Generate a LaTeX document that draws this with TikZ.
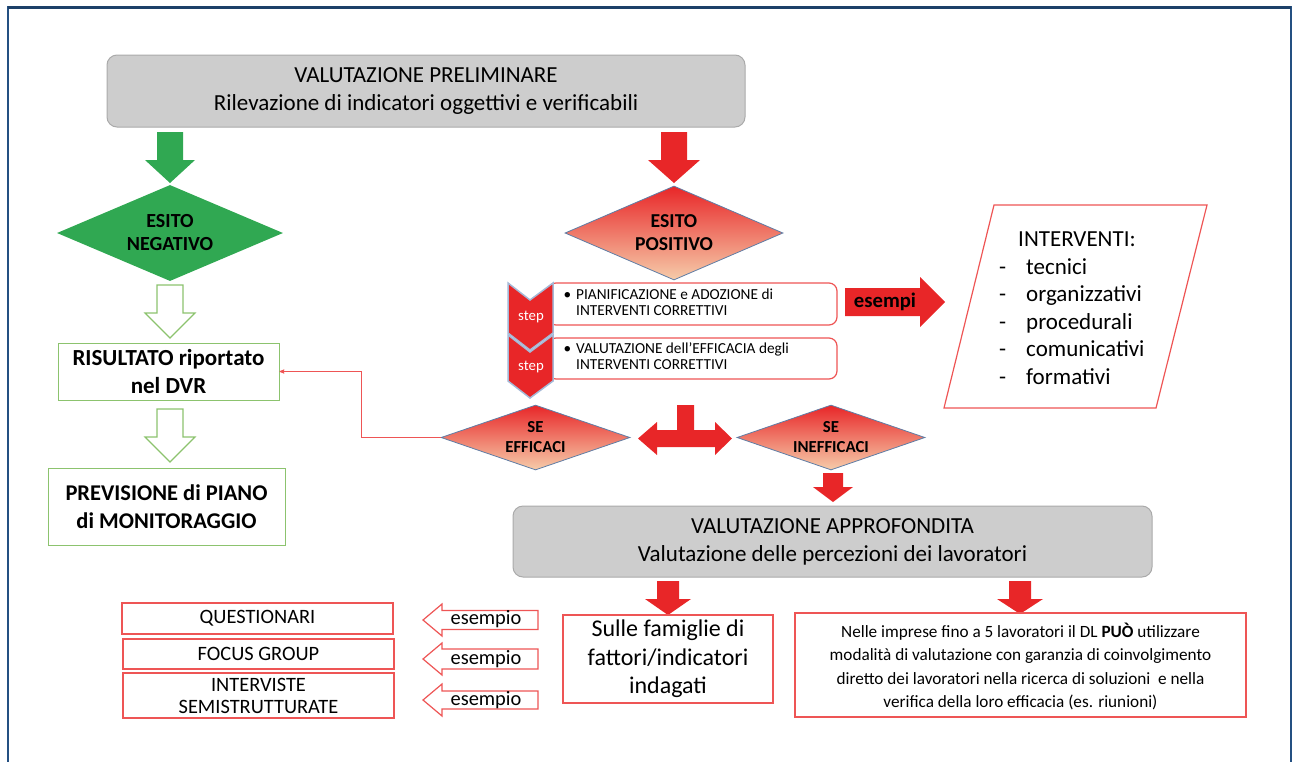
\documentclass[tikz,border=0pt]{standalone}
\usepackage{fontspec}
\setmainfont{Carlito}
\usetikzlibrary{arrows,shapes.geometric}

\definecolor{myred}{RGB}{232,38,40}
\definecolor{boxred}{RGB}{238,85,85}
\definecolor{mygreen}{RGB}{48,168,82}
\definecolor{boxgreen}{RGB}{140,195,110}
\definecolor{peach}{RGB}{246,204,170}
\definecolor{frameblue}{RGB}{36,80,130}
\definecolor{greyfill}{RGB}{205,205,205}
\definecolor{greyline}{RGB}{170,170,170}
\definecolor{diamline}{RGB}{95,125,165}

% block arrows: style, x, ytop, yneck, ytip, shaft half, head half
\newcommand{\blockdown}[7]{%
  \draw[#1] (#2-#6,#3) -- (#2+#6,#3) -- (#2+#6,#4) -- (#2+#7,#4) -- (#2,#5)
    -- (#2-#7,#4) -- (#2-#6,#4) -- cycle;}
% style, xtip, xneck, xend, y, shaft half, head half
\newcommand{\blockleft}[7]{%
  \draw[#1] (#2,#5) -- (#3,#5-#7) -- (#3,#5-#6) -- (#4,#5-#6) -- (#4,#5+#6)
    -- (#3,#5+#6) -- (#3,#5+#7) -- cycle;}

\begin{document}
\begin{tikzpicture}[x=1pt,y=-1pt,>=stealth',
    greybox/.style={draw=greyline,fill=greyfill,rounded corners=10pt,line width=1pt,
      align=center,font=\fontsize{23}{28}\selectfont},
    greenbox/.style={draw=boxgreen,line width=1pt,align=center,
      font=\fontsize{23}{28}\selectfont\bfseries},
    redbox/.style={draw=boxred,line width=1.2pt,align=center},
    stepbox/.style={draw=boxred,line width=1.2pt,rounded corners=8pt},
    steptext/.style={anchor=west,font=\fontsize{15.3}{17}\selectfont},
    diam/.style={diamond,inner sep=0pt,align=center,font=\bfseries},
    reddiam/.style={diam,draw=diamline,line width=0.8pt,top color=myred,bottom color=peach,
      font=\fontsize{16.8}{20}\selectfont\bfseries},
    redarrow/.style={fill=myred,draw=none},
    greenarrow/.style={fill=mygreen,draw=none},
    hollowgreen/.style={fill=white,draw=boxgreen,line width=1.2pt},
    hollowred/.style={fill=white,draw=boxred,line width=1.2pt},
    chevron/.style={fill=myred,draw={rgb,255:red,165;green,185;blue,215},line width=1.5pt},
    feedback/.style={->,draw=boxred,line width=0.8pt}]

\useasboundingbox (0,0) rectangle (1294,761);

% frame
\draw[frameblue,line width=2pt] (8,780) -- (8,7) -- (1291,7) -- (1291,780);
\draw[frameblue!80!black,line width=3pt] (8,7) -- (1291,7);

% top block
\node[greybox,minimum width=638pt,minimum height=72pt] (prelim) at (426,91)
  {VALUTAZIONE PRELIMINARE\\Rilevazione di indicatori oggettivi e verificabili};

% left branch
\blockdown{greenarrow}{170}{132}{160}{183}{13}{25}
\node[diam,fill=mygreen,shape aspect=2.35,minimum width=226pt,minimum height=96pt,
  font=\fontsize{20}{23}\selectfont\bfseries] (negativo) at (170,233) {ESITO\\NEGATIVO};
\blockdown{hollowgreen}{170}{285}{313}{338}{13}{25}
\node[greenbox,minimum width=221pt,minimum height=57pt,font=\fontsize{23}{28}\selectfont\bfseries]
  (risultato) at (168.5,371.5) {RISULTATO riportato\\nel DVR};
\blockdown{hollowgreen}{170}{409}{437}{462}{13}{25}
\node[greenbox,minimum width=237pt,minimum height=77pt,font=\fontsize{22.5}{28}\selectfont\bfseries]
  (previsione) at (166.5,506.5) {PREVISIONE di PIANO\\di MONITORAGGIO};

% right branch
\blockdown{redarrow}{674}{132}{160}{183}{13}{26}
\node[reddiam,shape aspect=2.3,minimum width=218pt,minimum height=94pt,
  font=\fontsize{19.7}{23}\selectfont\bfseries] (positivo) at (674,233) {ESITO\\POSITIVO};

% steps
\node[stepbox,minimum width=289pt,minimum height=42pt] (step1) at (692.5,304) {};
\node[stepbox,minimum width=289pt,minimum height=41pt] (step2) at (692.5,358.5) {};
\node[steptext] (step1t) at (560,304)
  {\begin{tabular}{@{}l@{\hspace{5pt}}l@{}}\textbullet & PIANIFICAZIONE e ADOZIONE di\\[-1pt]
   & INTERVENTI CORRETTIVI\end{tabular}};
\node[steptext] (step2t) at (560,358.5)
  {\begin{tabular}{@{}l@{\hspace{5pt}}l@{}}\textbullet & VALUTAZIONE dell’EFFICACIA degli\\[-1pt]
   & INTERVENTI CORRETTIVI\end{tabular}};
\draw[chevron] (508,283) -- (530,300) -- (553,283) -- (553,333) -- (530,350) -- (508,333) -- cycle;
\draw[chevron] (508,335) -- (530,352) -- (553,335) -- (553,381) -- (530,398) -- (508,381) -- cycle;
\node[white,font=\fontsize{14.8}{16}\selectfont] at (531,317) {step};
\node[white,font=\fontsize{14.8}{16}\selectfont] at (531,367) {step};

% esempi arrow and list of interventions
\draw[redarrow] (845,288) -- (920,288) -- (920,277) -- (945,302) -- (920,327) -- (920,316)
  -- (845,316) -- cycle;
\node[font=\fontsize{20.7}{22}\selectfont\bfseries] (esempi) at (885,302) {esempi};
\draw[draw=boxred,line width=1.2pt] (994,205) -- (1207,205) -- (1156,408) -- (944,408) -- cycle;
\node[anchor=north west,align=left,inner sep=0pt,font=\fontsize{23}{27.5}\selectfont]
  (interventi) at (999,232)
  {\hspace*{19pt}INTERVENTI:\\
   \makebox[27pt][l]{-}tecnici\\
   \makebox[27pt][l]{-}organizzativi\\
   \makebox[27pt][l]{-}procedurali\\
   \makebox[27pt][l]{-}comunicativi\\
   \makebox[27pt][l]{-}formativi};

% efficacy check
\node[reddiam,shape aspect=2.9,minimum width=189pt,minimum height=65pt] (efficaci)
  at (535.5,437.5) {SE\\EFFICACI};
\node[reddiam,shape aspect=2.9,minimum width=188pt,minimum height=65pt] (inefficaci)
  at (831,437.5) {SE\\INEFFICACI};
\draw[redarrow] (638,438.5) -- (657,422) -- (657,430) -- (677,430) -- (677,405) -- (694,405)
  -- (694,430) -- (715,430) -- (715,422) -- (732,438.5) -- (715,455) -- (715,447) -- (657,447)
  -- (657,455) -- cycle;
\draw[feedback] (efficaci.west) -| ([xshift=82pt]risultato.east) -- (risultato.east);

% in-depth assessment
\blockdown{redarrow}{833}{473}{487}{502}{10}{20}
\node[greybox,minimum width=639pt,minimum height=71pt] (approf) at (832.5,541.5)
  {VALUTAZIONE APPROFONDITA\\Valutazione delle percezioni dei lavoratori};
\blockdown{redarrow}{668}{581}{599}{615}{11}{23}
\blockdown{redarrow}{1020}{581}{599}{614}{11}{23}
\node[redbox,minimum width=210pt,minimum height=88pt,font=\fontsize{24}{28.5}\selectfont,
  text depth=4pt] (famiglie) at (668,659) {Sulle famiglie di\\fattori/indicatori\\indagati};
\node[redbox,minimum width=451pt,minimum height=104pt,font=\fontsize{17.2}{23.5}\selectfont]
  (imprese) at (1020.5,665)
  {\rule{0pt}{17pt}Nelle imprese fino a 5 lavoratori il DL \textbf{PUÒ} utilizzare\\
   modalità di valutazione con garanzia di coinvolgimento\\
   diretto dei lavoratori nella ricerca di soluzioni\ \ e nella\\
   verifica della loro efficacia (es. riunioni)};

% examples of tools
\node[redbox,minimum width=271pt,minimum height=31pt,font=\fontsize{20.4}{22}\selectfont]
  (questionari) at (257.5,618.5) {QUESTIONARI};
\node[redbox,minimum width=271pt,minimum height=30pt,font=\fontsize{20.4}{22}\selectfont]
  (focus) at (258.5,654) {FOCUS GROUP};
\node[redbox,minimum width=271pt,minimum height=45pt,font=\fontsize{20.4}{22}\selectfont]
  (interviste) at (258.5,695.5) {INTERVISTE\\SEMISTRUTTURATE};
\blockleft{hollowred}{423}{442}{538}{620}{9.5}{16}
\blockleft{hollowred}{423}{442}{538}{659}{10}{16}
\blockleft{hollowred}{423}{442}{538}{700}{9}{16}
\node[font=\fontsize{20.4}{22}\selectfont] (ex1) at (486,619) {esempio};
\node[font=\fontsize{20.4}{22}\selectfont] (ex2) at (486,659) {esempio};
\node[font=\fontsize{20.4}{22}\selectfont] (ex3) at (486,700) {esempio};

\end{tikzpicture}
\end{document}
